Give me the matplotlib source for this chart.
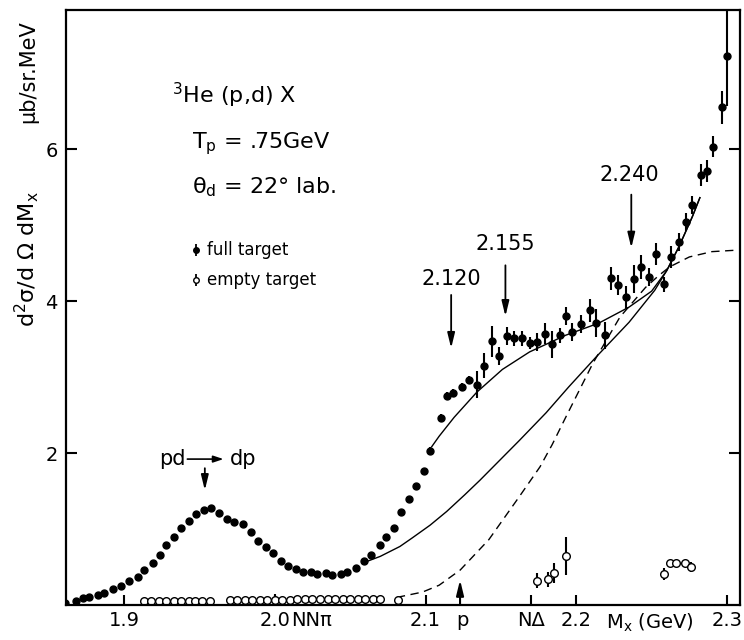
import matplotlib
matplotlib.use("Agg")
import matplotlib.pyplot as plt
from matplotlib import font_manager

# 字体：优先使用窄体字，接近原图的绘图字体
installed = {f.name for f in font_manager.fontManager.ttflist}
main_font = "Liberation Sans Narrow" if "Liberation Sans Narrow" in installed else "DejaVu Sans"
plt.rcParams["font.family"] = [main_font, "DejaVu Sans"]
plt.rcParams["mathtext.fontset"] = "custom"
plt.rcParams["mathtext.rm"] = main_font
plt.rcParams["mathtext.it"] = main_font

# full target 数据 (M_x in GeV, 截面 μb/sr.MeV)
full_x = [1.861, 1.868, 1.873, 1.877, 1.883, 1.887, 1.893, 1.898, 1.903, 1.909,
          1.913, 1.919, 1.924, 1.928, 1.933, 1.938, 1.943, 1.948, 1.953, 1.958,
          1.963, 1.968, 1.973, 1.979, 1.984, 1.989, 1.994, 1.999, 2.004, 2.009,
          2.014, 2.019, 2.024, 2.028, 2.034, 2.038, 2.044, 2.048, 2.054, 2.059,
          2.064, 2.070, 2.074, 2.079, 2.084, 2.089, 2.094, 2.099, 2.103, 2.110,
          2.114, 2.118, 2.124, 2.129, 2.134, 2.139, 2.144, 2.149, 2.154, 2.159,
          2.164, 2.169, 2.174, 2.179, 2.184, 2.189, 2.193, 2.197, 2.203, 2.209,
          2.213, 2.219, 2.223, 2.228, 2.233, 2.238, 2.243, 2.248, 2.253, 2.258,
          2.263, 2.268, 2.273, 2.277, 2.283, 2.287, 2.291, 2.297, 2.300]
full_y = [0.03, 0.05, 0.09, 0.11, 0.13, 0.16, 0.21, 0.25, 0.32, 0.37,
          0.46, 0.55, 0.66, 0.79, 0.90, 1.01, 1.11, 1.20, 1.25, 1.28,
          1.21, 1.13, 1.09, 1.07, 0.96, 0.84, 0.76, 0.68, 0.58, 0.51,
          0.47, 0.43, 0.43, 0.41, 0.42, 0.40, 0.41, 0.43, 0.49, 0.58,
          0.66, 0.79, 0.90, 1.01, 1.22, 1.40, 1.57, 1.76, 2.03, 2.46,
          2.75, 2.79, 2.87, 2.96, 2.90, 3.15, 3.47, 3.28, 3.54, 3.51,
          3.51, 3.45, 3.46, 3.57, 3.43, 3.55, 3.80, 3.59, 3.70, 3.88,
          3.71, 3.55, 4.30, 4.21, 4.05, 4.29, 4.45, 4.32, 4.62, 4.22,
          4.58, 4.78, 5.04, 5.26, 5.66, 5.71, 6.03, 6.55, 7.22]
full_err = [0.0] * 48 + [0.05] * 6 + [
          0.18, 0.16, 0.20, 0.12, 0.12, 0.10, 0.10, 0.08, 0.12, 0.14,
          0.18, 0.10, 0.12, 0.12, 0.12, 0.15, 0.18, 0.18, 0.15, 0.13,
          0.15, 0.18, 0.16, 0.12, 0.14, 0.10, 0.14, 0.12, 0.12, 0.12,
          0.14, 0.15, 0.14, 0.22, 0.65]

# empty target 数据
empty_x = [1.913, 1.918, 1.923, 1.928, 1.933, 1.938, 1.943, 1.947, 1.952, 1.957,
           1.970, 1.975, 1.980, 1.985, 1.990, 1.995, 2.000, 2.005, 2.010,
           2.015, 2.020, 2.025, 2.030, 2.035, 2.040, 2.045, 2.050, 2.055, 2.060,
           2.065, 2.070, 2.082,
           2.174, 2.181, 2.185, 2.193, 2.258, 2.262, 2.266, 2.272, 2.276]
empty_y = [0.05] * 10 + [0.06] * 9 + [0.08] * 12 + [0.07,
           0.32, 0.34, 0.42, 0.65, 0.41, 0.55, 0.55, 0.55, 0.50]
empty_err = [0.0] * 16 + [0.08] + [0.0] * 15 + [
           0.10, 0.10, 0.13, 0.25, 0.08, 0.04, 0.04, 0.04, 0.06]

# 理论曲线
upper_x = [2.104, 2.109, 2.119, 2.134, 2.151, 2.169, 2.193, 2.215, 2.235,
           2.250, 2.260, 2.268, 2.277, 2.282]
upper_y = [2.08, 2.22, 2.47, 2.80, 3.10, 3.33, 3.55, 3.71, 3.92,
           4.13, 4.40, 4.71, 5.11, 5.36]
lower_x = [2.058, 2.070, 2.083, 2.091, 2.103, 2.114, 2.126, 2.136, 2.144,
           2.162, 2.180, 2.195, 2.213, 2.235, 2.252, 2.260, 2.268, 2.277, 2.282]
lower_y = [0.55, 0.64, 0.77, 0.88, 1.05, 1.23, 1.45, 1.64, 1.80,
           2.16, 2.53, 2.87, 3.26, 3.72, 4.14, 4.40, 4.71, 5.11, 5.36]
dash_x = [2.081, 2.098, 2.109, 2.123, 2.142, 2.162, 2.176, 2.184, 2.193,
          2.211, 2.229, 2.246, 2.255, 2.262, 2.275, 2.290, 2.307]
dash_y = [0.10, 0.17, 0.26, 0.46, 0.86, 1.42, 1.82, 2.11, 2.47,
          3.18, 3.79, 4.18, 4.34, 4.45, 4.58, 4.65, 4.67]

# 坐标轴刻度
xticks = [1.9, 2.0, 2.1, 2.17, 2.2, 2.3]
xtick_labels = ["1.9", "2.0", "2.1", "NΔ", "2.2", "2.3"]
yticks = [2, 4, 6]


def draw_arrow_down(ax, x, y_top, y_tip):
    ax.annotate("", xy=(x, y_tip), xytext=(x, y_top),
                arrowprops=dict(arrowstyle="-|>,head_length=0.9,head_width=0.22",
                                lw=1.3, color="black", shrinkA=0, shrinkB=0))


def main():
    fig = plt.figure(figsize=(7.44, 6.4), dpi=100)
    ax = fig.add_axes([0.0887, 0.0547, 0.9059, 0.9297])

    # 曲线
    ax.plot(upper_x, upper_y, color="black", lw=1.0)
    ax.plot(lower_x, lower_y, color="black", lw=1.0)
    ax.plot(dash_x, dash_y, color="black", lw=1.0, ls=(0, (6, 4)))

    # 数据点
    ax.errorbar(full_x, full_y, yerr=full_err, fmt="o", color="black", ms=5,
                elinewidth=1.5, capsize=0)
    ax.errorbar(empty_x, empty_y, yerr=empty_err, fmt="o", mfc="white", mec="black",
                ecolor="black", ms=5.5, mew=1.0, elinewidth=1.5, capsize=0)

    # 标注
    ax.text(1.9315, 6.7, r"$^\mathrm{3}$He (p,d) X", fontsize=16, va="center")
    ax.text(1.945, 6.07, r"T$_\mathrm{p}$ = .75GeV", fontsize=16, va="center")
    ax.text(1.945, 5.5, r"θ$_\mathrm{d}$ = 22° lab.", fontsize=16, va="center")

    ax.errorbar([1.948], [4.67], yerr=[0.08], fmt="o", color="black", ms=4,
                elinewidth=1.3, capsize=0)
    ax.errorbar([1.948], [4.28], yerr=[0.08], fmt="o", mfc="white", mec="black",
                ecolor="black", ms=4, elinewidth=1.3, capsize=0)
    ax.text(1.955, 4.67, "full target", fontsize=12, va="center")
    ax.text(1.955, 4.28, "empty target", fontsize=12, va="center")

    ax.text(2.117, 4.29, "2.120", fontsize=15, ha="center", va="center")
    draw_arrow_down(ax, 2.117, 4.08, 3.38)
    ax.text(2.153, 4.75, "2.155", fontsize=15, ha="center", va="center")
    draw_arrow_down(ax, 2.153, 4.47, 3.80)
    ax.text(2.2355, 5.66, "2.240", fontsize=15, ha="center", va="center")
    draw_arrow_down(ax, 2.2365, 5.40, 4.70)

    ax.text(1.932, 1.92, "pd", fontsize=15, ha="center", va="center")
    ax.text(1.979, 1.92, "dp", fontsize=15, ha="center", va="center")
    ax.annotate("", xy=(1.966, 1.92), xytext=(1.942, 1.92),
                arrowprops=dict(arrowstyle="-|>,head_length=0.6,head_width=0.2",
                                lw=1.2, color="black", shrinkA=0, shrinkB=0))
    draw_arrow_down(ax, 1.9536, 1.8, 1.51)

    # p 处向上箭头
    ax.annotate("", xy=(2.1229, 0.33), xytext=(2.1229, 0.0),
                arrowprops=dict(arrowstyle="-|>,head_length=0.9,head_width=0.22",
                                lw=1.5, color="black", shrinkA=0, shrinkB=0))

    # 坐标轴
    ax.set_xlim(1.8615, 2.3086)
    ax.set_ylim(0, 7.83)
    ax.set_xticks(xticks)
    ax.set_xticklabels(xtick_labels)
    ax.set_yticks(yticks)
    ax.tick_params(axis="x", direction="in", length=7, width=1.5, pad=4, labelsize=14)
    ax.tick_params(axis="y", direction="in", length=8, width=1.5, pad=6, labelsize=14,
                   right=True)
    for s in ax.spines.values():
        s.set_linewidth(1.6)

    for xpos, lab in [(2.0247, "NNπ"), (2.1242, "p"), (2.2489, r"M$_\mathrm{x}$ (GeV)")]:
        ax.annotate(lab, xy=(xpos, 0), xycoords=("data", "axes fraction"),
                    xytext=(0, -4.5), textcoords="offset points",
                    ha="center", va="top", fontsize=14)

    # y 轴标签
    fig.text(0.036, 0.595, r"d$^\mathrm{2}$σ/d Ω dM$_\mathrm{x}$", rotation=90,
             fontsize=16, ha="center", va="center")
    fig.text(0.038, 0.888, "μb/sr.MeV", rotation=90, fontsize=15,
             ha="center", va="center")

    fig.savefig("out.png", dpi=100)


if __name__ == "__main__":
    main()
